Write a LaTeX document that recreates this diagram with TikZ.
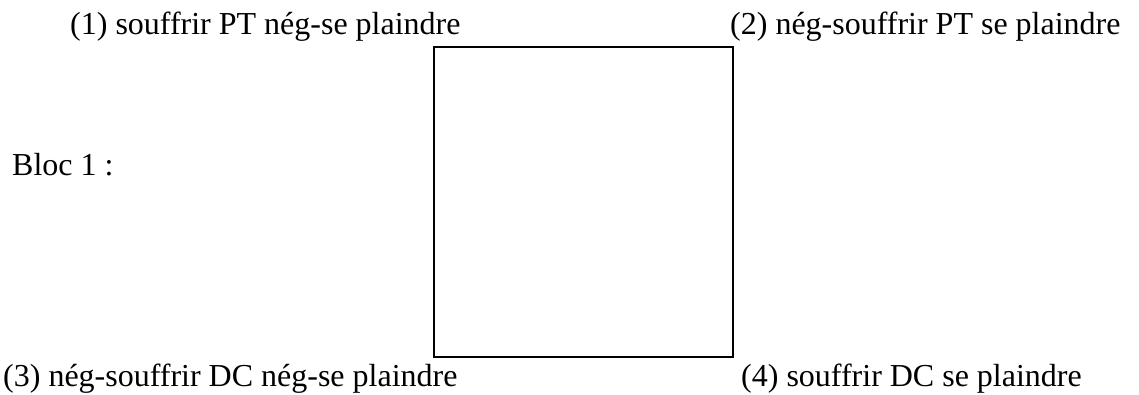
\documentclass[tikz,border=0pt]{standalone}
\usepackage{fontspec}
\setmainfont{Liberation Serif}
\begin{document}
\begin{tikzpicture}[x=1pt,y=-1pt,
  lbl/.style={anchor=base west,inner sep=0pt,font=\fontsize{32}{38}\selectfont},
  square/.style={draw=black,line width=2pt,inner sep=0pt,minimum width=299pt,minimum height=310pt,anchor=north west}]
\useasboundingbox (0,0) rectangle (1139,394);
\node[square] (box) at (433,46) {};
\node[lbl] (q1) at (70,34) {(1) souffrir PT nég-se plaindre};
\node[lbl] (q2) at (730,34) {(2) nég-souffrir PT se plaindre};
\node[lbl] (bloc) at (12,175) {Bloc 1 :};
\node[lbl] (q3) at (3,386) {(3) nég-souffrir DC nég-se plaindre};
\node[lbl] (q4) at (741,386) {(4) souffrir DC se plaindre};
\end{tikzpicture}
\end{document}
